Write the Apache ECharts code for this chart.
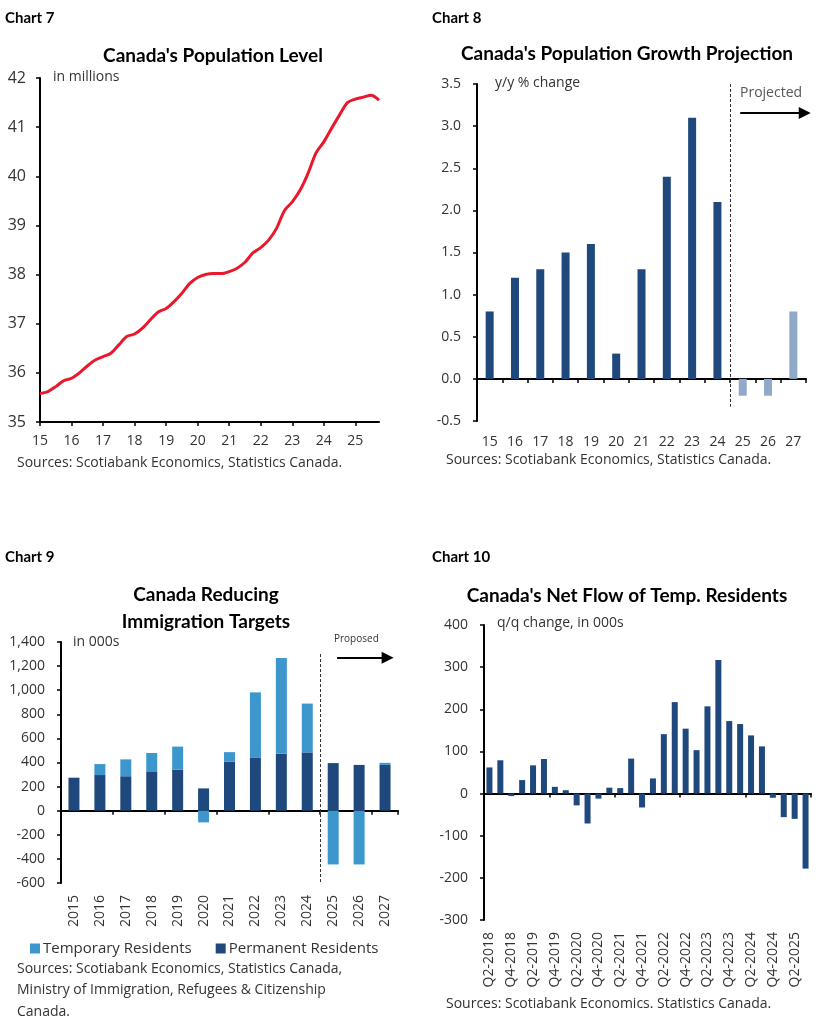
<!DOCTYPE html>
<html>
<head>
<meta charset="utf-8">
<script src="https://cdn.jsdelivr.net/npm/echarts@6/dist/echarts.min.js"></script>
<style>
  html, body { margin: 0; padding: 0; background: #fff; }
  #main { width: 828px; height: 1023px; }
</style>
</head>
<body>
<div id="main"></div>
<script>
// ---- Chart 7: population level (millions), quarterly
var popQuarters = [
  '2015Q1','2015Q2','2015Q3','2015Q4','2016Q1','2016Q2','2016Q3','2016Q4',
  '2017Q1','2017Q2','2017Q3','2017Q4','2018Q1','2018Q2','2018Q3','2018Q4',
  '2019Q1','2019Q2','2019Q3','2019Q4','2020Q1','2020Q2','2020Q3','2020Q4',
  '2021Q1','2021Q2','2021Q3','2021Q4','2022Q1','2022Q2','2022Q3','2022Q4',
  '2023Q1','2023Q2','2023Q3','2023Q4','2024Q1','2024Q2','2024Q3','2024Q4',
  '2025Q1','2025Q2','2025Q3','2025Q4'
];
var popLevel = [
  35.58, 35.62, 35.72, 35.84, 35.89, 36.00, 36.14, 36.26,
  36.33, 36.40, 36.57, 36.74, 36.79, 36.91, 37.08, 37.24,
  37.31, 37.45, 37.62, 37.82, 37.94, 38.00, 38.02, 38.02,
  38.06, 38.13, 38.25, 38.44, 38.55, 38.70, 38.94, 39.30,
  39.48, 39.72, 40.06, 40.47, 40.70, 40.98, 41.25, 41.50,
  41.57, 41.61, 41.65, 41.55
];

// ---- Chart 8: population growth y/y %
var growthYears = ['15','16','17','18','19','20','21','22','23','24','25','26','27'];
var growthActual = [0.8, 1.2, 1.3, 1.5, 1.6, 0.3, 1.3, 2.4, 3.1, 2.1, '-', '-', '-'];
var growthProjected = ['-', '-', '-', '-', '-', '-', '-', '-', '-', '-', -0.2, -0.2, 0.8];

// ---- Chart 9: immigration targets (000s)
var immYears = ['2015','2016','2017','2018','2019','2020','2021','2022','2023','2024','2025','2026','2027'];
var permanentRes = [272, 296, 286, 321, 341, 185, 406, 438, 472, 484, 395, 380, 380];
var temporaryRes = [3, 91, 140, 158, 191, -97, 80, 544, 795, 405, -446, -446, 17];

// ---- Chart 10: net flow of temporary residents, q/q (000s)
var flowQuarters = [
  'Q2-2018','Q3-2018','Q4-2018','Q1-2019','Q2-2019','Q3-2019','Q4-2019','Q1-2020',
  'Q2-2020','Q3-2020','Q4-2020','Q1-2021','Q2-2021','Q3-2021','Q4-2021','Q1-2022',
  'Q2-2022','Q3-2022','Q4-2022','Q1-2023','Q2-2023','Q3-2023','Q4-2023','Q1-2024',
  'Q2-2024','Q3-2024','Q4-2024','Q1-2025','Q2-2025','Q3-2025'
];
var flowValues = [
  62, 79, -6, 32, 67, 82, 16, 8,
  -28, -71, -12, 14, 13, 83, -33, 36,
  141, 217, 154, 103, 207, 317, 172, 165,
  138, 112, -10, -56, -60, -178
];

var DARK = '#1f497d';
var LIGHT = '#8fa9c9';
var TEAL = '#3d97cd';
var TXT = '#333';
var FONT = 'Open Sans';

var chart = echarts.init(document.getElementById('main'));

function axisLine() {
  return { show: true, onZero: false, lineStyle: { color: '#000', width: 2 } };
}
function tick() {
  return { show: true, length: 4, lineStyle: { color: '#000', width: 1.5 } };
}
function label(size, extra) {
  var o = { color: TXT, fontFamily: FONT, fontSize: size };
  for (var k in extra) o[k] = extra[k];
  return o;
}
// plain text placed by its top-left (or top-centre) point
function txt(x, y, text, size, opts) {
  opts = opts || {};
  return {
    type: 'text', x: x, y: y, silent: true,
    style: {
      text: text,
      fill: opts.fill || TXT,
      font: (opts.weight || 'normal') + ' ' + size + 'px ' + (opts.family || FONT),
      textAlign: opts.align || 'left',
      textVerticalAlign: 'top',
      lineHeight: opts.lineHeight || Math.round(size * 1.3)
    }
  };
}
function title(x, y, text) {
  return txt(x, y, text, 19, { weight: 'bold', family: 'Lato', fill: '#000', align: 'center', lineHeight: 27 });
}

var option = {
  animation: false,
  grid: [
    { left: 40, top: 78, width: 339, height: 344 },
    { left: 477, top: 84, width: 329, height: 337 },
    { left: 61, top: 642, width: 337, height: 241 },
    { left: 484, top: 625, width: 327, height: 295 }
  ],
  xAxis: [
    { // 0 chart 7
      type: 'category', gridIndex: 0, data: popQuarters, boundaryGap: false,
      axisLine: axisLine(), axisTick: { show: true, interval: 3, length: 4, lineStyle: { color: '#000', width: 1.5 } },
      axisLabel: label(14, { interval: 3, margin: 12, formatter: function (v) { return v.slice(2, 4); } }),
      splitLine: { show: false }
    },
    { // 1 chart 8 zero line
      type: 'category', gridIndex: 1, data: growthYears,
      axisLine: { show: true, onZero: true, lineStyle: { color: '#000', width: 2 } },
      axisTick: tick(), axisLabel: { show: false }, splitLine: { show: false }
    },
    { // 2 chart 8 bottom labels
      type: 'category', gridIndex: 1, data: growthYears, position: 'bottom',
      axisLine: { show: false, onZero: false }, axisTick: { show: false },
      axisLabel: label(14, { margin: 14 })
    },
    { // 3 chart 8 helper scale for annotations
      type: 'value', gridIndex: 1, min: 0, max: 13, show: false
    },
    { // 4 chart 9 zero line
      type: 'category', gridIndex: 2, data: immYears,
      axisLine: { show: true, onZero: true, lineStyle: { color: '#000', width: 2 } },
      axisTick: tick(), axisLabel: { show: false }, splitLine: { show: false }
    },
    { // 5 chart 9 bottom labels
      type: 'category', gridIndex: 2, data: immYears, position: 'bottom',
      axisLine: { show: false, onZero: false }, axisTick: { show: false },
      axisLabel: label(14, { margin: 12, rotate: 90 })
    },
    { // 6 chart 9 helper scale
      type: 'value', gridIndex: 2, min: 0, max: 13, show: false
    },
    { // 7 chart 10 zero line
      type: 'category', gridIndex: 3, data: flowQuarters,
      axisLine: { show: true, onZero: true, lineStyle: { color: '#000', width: 2 } },
      axisTick: tick(), axisLabel: { show: false }, splitLine: { show: false }
    },
    { // 8 chart 10 bottom labels
      type: 'category', gridIndex: 3, data: flowQuarters, position: 'bottom',
      axisLine: { show: false, onZero: false }, axisTick: { show: false },
      axisLabel: label(14, { margin: 12, rotate: 90, interval: 1 })
    }
  ],
  yAxis: [
    {
      type: 'value', gridIndex: 0, min: 35, max: 42, interval: 1,
      axisLine: axisLine(), axisTick: tick(), splitLine: { show: false },
      axisLabel: label(16, { margin: 14 })
    },
    {
      type: 'value', gridIndex: 1, min: -0.5, max: 3.5, interval: 0.5,
      axisLine: axisLine(), axisTick: tick(), splitLine: { show: false },
      axisLabel: label(14, { margin: 16, formatter: function (v) { return v.toFixed(1); } })
    },
    {
      type: 'value', gridIndex: 2, min: -600, max: 1400, interval: 200,
      axisLine: axisLine(), axisTick: tick(), splitLine: { show: false },
      axisLabel: label(14, { margin: 16, formatter: function (v) { return v.toLocaleString('en-US'); } })
    },
    {
      type: 'value', gridIndex: 3, min: -300, max: 400, interval: 100,
      axisLine: axisLine(), axisTick: tick(), splitLine: { show: false },
      axisLabel: label(14, { margin: 16 })
    }
  ],
  legend: {
    left: 25, top: 936, itemWidth: 10, itemHeight: 10, itemGap: 24,
    icon: 'rect',
    data: ['Temporary Residents', 'Permanent Residents'],
    textStyle: { color: TXT, fontFamily: FONT, fontSize: 15, padding: [0, 0, 0, -2] }
  },
  series: [
    {
      name: 'Population', type: 'line', xAxisIndex: 0, yAxisIndex: 0,
      data: popLevel, smooth: 0.3, symbol: 'none',
      lineStyle: { color: '#e8192c', width: 3 }
    },
    {
      name: 'Actual', type: 'bar', xAxisIndex: 1, yAxisIndex: 1,
      data: growthActual, barWidth: 8, barGap: '-100%',
      itemStyle: { color: DARK }
    },
    {
      name: 'Projected', type: 'bar', xAxisIndex: 1, yAxisIndex: 1,
      data: growthProjected, barWidth: 8, barGap: '-100%',
      itemStyle: { color: LIGHT }
    },
    {
      name: 'div8', type: 'line', xAxisIndex: 3, yAxisIndex: 1, data: [],
      markLine: {
        silent: true, symbol: 'none', label: { show: false },
        lineStyle: { color: '#333', width: 1, type: [3, 2] },
        data: [[{ coord: [10, 3.5] }, { coord: [10, -0.33] }]]
      }
    },
    {
      name: 'arrow8', type: 'line', xAxisIndex: 3, yAxisIndex: 1, data: [],
      markLine: {
        silent: true, symbol: ['none', 'triangle'], symbolSize: [12, 12], label: { show: false },
        lineStyle: { color: '#000', width: 2, type: 'solid' },
        data: [[{ coord: [10.4, 3.155] }, { coord: [12.95, 3.155] }]]
      }
    },
    {
      name: 'Permanent Residents', type: 'bar', xAxisIndex: 4, yAxisIndex: 2,
      stack: 'imm', data: permanentRes, barWidth: 11,
      itemStyle: { color: DARK }
    },
    {
      name: 'Temporary Residents', type: 'bar', xAxisIndex: 4, yAxisIndex: 2,
      stack: 'imm', data: temporaryRes, barWidth: 11,
      itemStyle: { color: TEAL }
    },
    {
      name: 'div9', type: 'line', xAxisIndex: 6, yAxisIndex: 2, data: [],
      markLine: {
        silent: true, symbol: 'none', label: { show: false },
        lineStyle: { color: '#333', width: 1, type: [3, 2] },
        data: [[{ coord: [10, 1300] }, { coord: [10, -600] }]]
      }
    },
    {
      name: 'arrow9', type: 'line', xAxisIndex: 6, yAxisIndex: 2, data: [],
      markLine: {
        silent: true, symbol: ['none', 'triangle'], symbolSize: [12, 12], label: { show: false },
        lineStyle: { color: '#000', width: 2, type: 'solid' },
        data: [[{ coord: [10.65, 1270] }, { coord: [12.6, 1270] }]]
      }
    },
    {
      name: 'Net flow', type: 'bar', xAxisIndex: 7, yAxisIndex: 3,
      data: flowValues, barWidth: 6,
      itemStyle: { color: DARK }
    }
  ],
  graphic: [
    txt(5, 8, 'Chart 7', 15, { weight: 'bold', family: 'Lato', fill: '#000' }),
    txt(432, 8, 'Chart 8', 15, { weight: 'bold', family: 'Lato', fill: '#000' }),
    txt(5, 547, 'Chart 9', 15, { weight: 'bold', family: 'Lato', fill: '#000' }),
    txt(432, 547, 'Chart 10', 15, { weight: 'bold', family: 'Lato', fill: '#000' }),
    title(213, 42, "Canada's Population Level"),
    title(627, 40, "Canada's Population Growth Projection"),
    title(206, 581, 'Canada Reducing\nImmigration Targets'),
    title(627, 582, "Canada's Net Flow of Temp. Residents"),
    txt(53, 68, 'in millions', 14),
    txt(495, 74, 'y/y % change', 14),
    txt(740, 84, 'Projected', 14, { fill: '#555' }),
    txt(73, 633, 'in 000s', 14),
    txt(334, 633, 'Proposed', 10),
    txt(497, 614, 'q/q change, in 000s', 14),
    txt(17, 454, 'Sources: Scotiabank Economics, Statistics Canada.', 14),
    txt(446, 451, 'Sources: Scotiabank Economics, Statistics Canada.', 14),
    txt(17, 958, 'Sources: Scotiabank Economics, Statistics Canada,\nMinistry of Immigration, Refugees & Citizenship\nCanada.', 14, { lineHeight: 21.5 }),
    txt(446, 995, 'Sources: Scotiabank Economics. Statistics Canada.', 14)
  ]
};

chart.setOption(option);
</script>
</body>
</html>
